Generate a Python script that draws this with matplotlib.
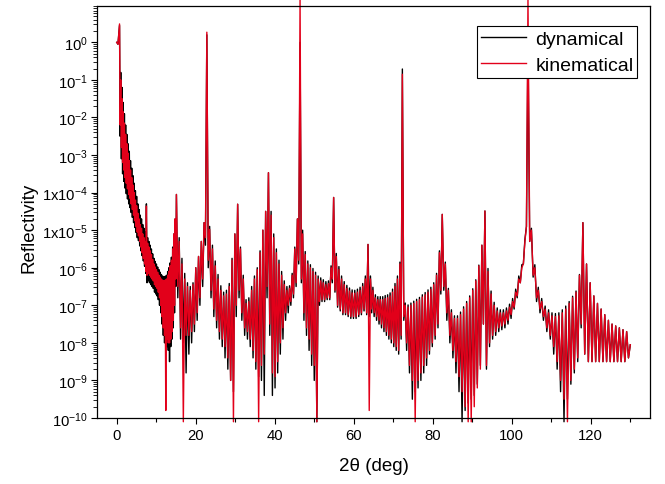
import numpy as np
import matplotlib
matplotlib.use("Agg")
import matplotlib.pyplot as plt
from matplotlib.ticker import FixedLocator, NullFormatter

plt.rcParams['font.family'] = ['Liberation Sans', 'DejaVu Sans']
plt.rcParams['mathtext.fontset'] = 'custom'
plt.rcParams['mathtext.rm'] = 'Liberation Sans'
plt.rcParams['mathtext.it'] = 'Liberation Sans:italic'

# Bragg peaks (2theta, log10 R); fringes are listed between consecutive peaks
peak_x = [0.0, 0.3, 0.7, 7.5, 15.1, 22.8, 30.6, 38.4, 46.4, 54.9, 63.6,
          72.3, 82.4, 93.2, 104.1, 118.0, 130.0]
kin_peak = [0.0, -0.05, 0.49, -4.36, -4.05, 0.27, -4.31, -3.47, 1.15, -4.13,
            -5.38, -0.85, -4.58, -4.49, 1.15, -4.8, -8.05]
dyn_peak = [0.0, -0.05, 0.45, -4.3, -4.05, 0.2, -4.31, -3.47, 0.0, -4.13,
            -5.38, -0.71, -4.58, -4.49, 0.0, -4.8, -8.05]

# fringe minima / maxima (log10 R), one row per gap between peaks
kin_lo = [
    [], [],
    [-2.2, -2.8, -3.2, -3.4, -3.6, -3.75, -3.9, -4.05, -4.15, -4.3, -4.45,
     -4.6, -4.75, -4.9, -5.05, -5.15, -5.3, -5.45, -5.6, -5.75, -5.9, -6.1],
    [-6.2, -6.15, -6.2, -6.25, -6.3, -6.35, -6.45, -6.5, -6.55, -6.65, -6.8,
     -7.0, -7.3, -7.6, -7.8, -9.8, -7.9, -8.0, -8.0, -7.9, -7.7, -7.4, -7.0, -6.3],
    [-6.5, -7.6, -10.1, -7.8, -7.8, -7.7, -7.5, -7.2, -6.8, -6.3, -5.2],
    [-5.8, -6.6, -7.1, -7.4, -7.7, -7.9, -8.1, -8.4, -9.0, -10.1, -7.0],
    [-6.6, -7.2, -7.6, -7.7, -7.9, -8.2, -8.5, -10.1, -8.6, -8.3, -6.5],
    [-7.5, -8.8, -8.9, -8.5, -8.0, -7.6, -7.2, -7.0, -6.9, -6.7, -6.4, -5.8],
    [-6.3, -7.2, -7.6, -7.9, -8.3, -8.6, -10.1, -6.9, -6.85, -6.85, -6.8, -6.8, -6.3],
    [-6.6, -7.0, -7.1, -7.2, -7.2, -7.25, -7.3, -7.3, -7.3, -7.25, -7.2, -7.1, -7.2],
    [-9.8, -7.1, -7.2, -7.3, -7.4, -7.5, -7.6, -7.7, -7.8, -7.9, -8.0, -8.1, -8.2, -7.8],
    [-7.3, -8.0, -8.6, -9.0, -10.1, -9.0, -8.8, -8.6, -8.4, -8.2, -8.0, -7.8, -7.5, -6.6],
    [-6.5, -7.2, -7.8, -8.2, -8.5, -8.9, -9.3, -9.7, -10.1, -10.1, -9.7, -9.2, -8.7, -7.5],
    [-8.6, -8.0, -7.8, -7.7, -7.6, -7.55, -7.5, -7.4, -7.25, -7.05, -6.75, -6.4, -5.9, -4.9],
    [-5.3, -6.2, -6.8, -7.1, -7.3, -7.6, -7.8, -8.1, -8.5, -9.0, -9.5, -10.1, -9.0, -8.7, -8.4, -7.5],
    [-8.3, -8.5, -8.5, -8.5, -8.5, -8.5, -8.5, -8.5, -8.5, -8.5, -8.5, -8.5, -8.4],
]
kin_hi = [
    [], [],
    [-1.0, -1.5, -1.85, -2.15, -2.45, -2.7, -2.95, -3.15, -3.4, -3.6, -3.8,
     -4.0, -4.2, -4.35, -4.55, -4.7, -4.85, -4.95, -5.1, -5.2, -5.3],
    [-5.35, -5.45, -5.55, -5.65, -5.78, -5.9, -5.98, -6.05, -6.12, -6.2, -6.25,
     -6.3, -6.33, -6.35, -6.33, -6.3, -6.2, -6.1, -5.95, -5.8, -5.5, -5.1, -4.7],
    [-5.3, -5.9, -6.3, -6.5, -6.6, -6.45, -6.0, -5.7, -5.3, -4.8],
    [-4.98, -5.5, -5.95, -6.3, -6.6, -6.75, -6.7, -6.5, -5.8, -5.1],
    [-5.5, -6.3, -6.95, -6.9, -6.6, -6.3, -6.05, -5.6, -5.0, -4.5],
    [-4.6, -5.2, -5.6, -5.9, -6.2, -6.45, -6.6, -6.55, -6.2, -5.5, -4.7],
    [-5.1, -5.65, -5.9, -6.0, -6.1, -6.2, -6.3, -6.35, -6.4, -6.45, -6.42, -6.0],
    [-5.7, -6.05, -6.3, -6.45, -6.55, -6.62, -6.67, -6.68, -6.65, -6.6, -6.5, -6.3],
    [-6.3, -6.6, -6.8, -6.85, -6.85, -6.85, -6.82, -6.8, -6.75, -6.65, -6.5, -6.3, -5.9],
    [-7.0, -7.05, -7.0, -6.95, -6.9, -6.85, -6.78, -6.72, -6.65, -6.58, -6.45, -6.2, -5.6],
    [-5.9, -6.6, -7.2, -7.35, -7.35, -7.25, -7.1, -6.95, -6.8, -6.6, -6.35, -5.95, -5.4],
    [-6.1, -6.7, -7.0, -7.15, -7.2, -7.2, -7.15, -7.05, -6.9, -6.65, -6.3, -6.0, -5.3],
    [-5.0, -6.0, -6.6, -6.9, -7.1, -7.2, -7.28, -7.3, -7.28, -7.2, -7.1, -6.95, -6.8, -6.65, -6.2],
    [-5.9, -6.4, -6.75, -6.95, -7.1, -7.25, -7.4, -7.5, -7.55, -7.6, -7.65, -7.7],
]
dyn_lo = [
    [], [],
    [-2.5, -3.1, -3.5, -3.7, -3.88, -4.03, -4.17, -4.3, -4.4, -4.53, -4.66,
     -4.8, -4.93, -5.06, -5.2, -5.28, -5.42, -5.55, -5.68, -5.82, -5.96, -6.15],
    [-6.4, -6.35, -6.4, -6.45, -6.5, -6.55, -6.65, -6.7, -6.75, -6.85, -7.0,
     -7.2, -7.5, -7.8, -8.0, -8.0, -8.1, -8.2, -8.5, -8.1, -7.9, -7.6, -7.2, -6.5],
    [-6.8, -7.9, -8.0, -8.8, -8.3, -8.0, -7.7, -7.4, -7.0, -6.5, -5.4],
    [-6.0, -6.8, -7.3, -7.6, -7.9, -8.1, -8.4, -8.7, -9.0, -9.3, -7.3],
    [-6.8, -7.4, -7.8, -7.9, -8.1, -8.4, -8.7, -8.9, -9.0, -9.4, -6.8],
    [-7.8, -9.4, -9.2, -8.8, -8.3, -7.9, -7.4, -7.2, -7.0, -6.8, -6.5, -5.9],
    [-6.4, -7.4, -7.8, -8.2, -8.6, -9.0, -10.1, -7.0, -6.9, -6.9, -6.85, -6.85, -6.4],
    [-6.65, -7.05, -7.15, -7.25, -7.25, -7.3, -7.35, -7.35, -7.35, -7.3, -7.25, -7.15, -7.25],
    [-7.3, -7.2, -7.3, -7.4, -7.5, -7.6, -7.7, -7.8, -7.9, -8.0, -8.1, -8.2, -8.3, -7.9],
    [-7.4, -8.2, -8.8, -9.5, -9.3, -9.2, -9.0, -8.8, -8.6, -8.3, -8.1, -7.9, -7.6, -6.7],
    [-6.6, -7.4, -8.0, -8.4, -8.8, -9.3, -10.1, -9.8, -9.6, -9.5, -9.4, -9.1, -8.6, -7.5],
    [-8.7, -8.1, -7.9, -7.8, -7.7, -7.65, -7.6, -7.5, -7.35, -7.1, -6.8, -6.4, -5.9, -4.9],
    [-5.3, -6.25, -6.9, -7.2, -7.4, -7.7, -7.9, -8.3, -8.7, -9.3, -10.1, -9.5, -9.1, -8.8, -8.5, -7.6],
    [-8.3, -8.5, -8.5, -8.5, -8.5, -8.5, -8.5, -8.5, -8.5, -8.5, -8.5, -8.5, -8.4],
]
dyn_hi = [
    [], [],
    [-0.8, -1.2, -1.6, -1.9, -2.2, -2.45, -2.7, -2.9, -3.15, -3.35, -3.55,
     -3.75, -3.95, -4.1, -4.3, -4.45, -4.6, -4.7, -4.85, -4.95, -5.05],
    [-5.2, -5.3, -5.4, -5.5, -5.63, -5.75, -5.83, -5.9, -5.98, -6.05, -6.12,
     -6.18, -6.22, -6.25, -6.23, -6.2, -6.1, -6.0, -5.87, -5.72, -5.45, -5.1, -4.7],
    [-5.2, -5.75, -6.15, -6.4, -6.5, -6.4, -6.0, -5.7, -5.3, -4.8],
    [-4.9, -5.4, -5.82, -6.18, -6.48, -6.65, -6.6, -6.42, -5.75, -5.1],
    [-5.45, -6.2, -6.85, -6.8, -6.5, -6.22, -6.0, -5.55, -5.0, -4.5],
    [-4.5, -5.1, -5.5, -5.8, -6.1, -6.35, -6.5, -6.48, -6.15, -5.45, -4.7],
    [-5.0, -5.57, -5.82, -5.92, -6.02, -6.12, -6.22, -6.27, -6.32, -6.37, -6.35, -5.95],
    [-5.62, -5.97, -6.22, -6.37, -6.47, -6.54, -6.59, -6.6, -6.57, -6.52, -6.42, -6.22],
    [-6.22, -6.52, -6.72, -6.77, -6.77, -6.77, -6.74, -6.72, -6.67, -6.57, -6.42, -6.22, -5.85],
    [-6.94, -6.99, -6.94, -6.89, -6.84, -6.79, -6.72, -6.66, -6.59, -6.52, -6.4, -6.15, -5.55],
    [-5.85, -6.55, -7.12, -7.28, -7.28, -7.18, -7.04, -6.9, -6.75, -6.56, -6.32, -5.93, -5.4],
    [-6.02, -6.62, -6.92, -7.07, -7.12, -7.12, -7.07, -6.97, -6.82, -6.57, -6.22, -5.92, -5.25],
    [-4.95, -5.92, -6.52, -6.82, -7.02, -7.12, -7.2, -7.22, -7.2, -7.12, -7.02, -6.9, -6.76, -6.62, -6.18],
    [-5.9, -6.4, -6.75, -6.95, -7.1, -7.25, -7.4, -7.5, -7.55, -7.6, -7.65, -7.7],
]

ytick_vals = [1e0, 1e-1, 1e-2, 1e-3, 1e-4, 1e-5, 1e-6, 1e-7, 1e-8, 1e-9, 1e-10]
ytick_text = [r'$\mathregular{10^{0}}$', r'$\mathregular{10^{-1}}$',
              r'$\mathregular{10^{-2}}$', r'$\mathregular{10^{-3}}$',
              r'1x$\mathregular{10^{-4}}$', r'1x$\mathregular{10^{-5}}$',
              r'$\mathregular{10^{-6}}$', r'$\mathregular{10^{-7}}$',
              r'$\mathregular{10^{-8}}$', r'$\mathregular{10^{-9}}$',
              r'$\mathregular{10^{-10}}$']


def build(px, pv, lo, hi):
    # walk peak -> fringe minima/maxima -> next peak
    xs, ys = [], []
    for i in range(len(px) - 1):
        xs.append(px[i])
        ys.append(pv[i])
        vals = []
        for k in range(len(lo[i])):
            vals.append(lo[i][k])
            if k < len(hi[i]):
                vals.append(hi[i][k])
        pos = np.linspace(px[i], px[i + 1], len(vals) + 2)[1:-1]
        xs.extend(pos)
        ys.extend(vals)
    xs.append(px[-1])
    ys.append(pv[-1])
    return np.array(xs), 10.0 ** np.array(ys)


x_dyn, y_dyn = build(peak_x, dyn_peak, dyn_lo, dyn_hi)
x_kin, y_kin = build(peak_x, kin_peak, kin_lo, kin_hi)

fig = plt.figure(figsize=(6.65, 4.85), dpi=100)
ax = fig.add_axes([0.1459, 0.1361, 0.8316, 0.8489])

ax.plot(x_dyn, y_dyn, color='black', lw=1.0, label='dynamical', clip_on=False)
ax.plot(x_kin, y_kin, color='#e2001a', lw=1.0, label='kinematical', clip_on=False)

ax.set_yscale('log')
ax.set_xlim(-5, 135)
ax.set_ylim(1e-10, 10 ** 0.96)

ax.xaxis.set_major_locator(FixedLocator([0, 20, 40, 60, 80, 100, 120]))
ax.xaxis.set_minor_locator(FixedLocator([10, 30, 50, 70, 90, 110, 130]))
ax.yaxis.set_major_locator(FixedLocator(ytick_vals))
ax.set_yticklabels(ytick_text)
minor_y = [m * 10.0 ** e for e in range(-10, 1) for m in range(2, 10)]
ax.yaxis.set_minor_locator(FixedLocator(minor_y))
ax.yaxis.set_minor_formatter(NullFormatter())

ax.tick_params(axis='x', which='major', direction='out', length=4.3, width=0.8,
               labelsize=10.7, pad=3)
ax.tick_params(axis='x', which='minor', direction='out', length=2.6, width=0.8)
ax.tick_params(axis='y', which='major', direction='out', length=4.0, width=0.8,
               labelsize=10.7, pad=2.5)
ax.tick_params(axis='y', which='minor', direction='out', length=2.8, width=0.6)
for s in ax.spines.values():
    s.set_linewidth(0.9)

ax.set_xlabel('2θ (deg)', fontsize=13.5, labelpad=11)
ax.set_ylabel('Reflectivity', fontsize=13.5)
ax.yaxis.set_label_coords(-0.108, 0.465)

leg = ax.legend(loc='upper right', bbox_to_anchor=(0.977, 0.951), fontsize=14,
                frameon=True, fancybox=False, edgecolor='black', framealpha=1,
                handlelength=2.3, handletextpad=0.5, borderpad=0.2,
                labelspacing=0.42, borderaxespad=0)
leg.get_frame().set_linewidth(0.8)

fig.savefig('out.png', dpi=100)
